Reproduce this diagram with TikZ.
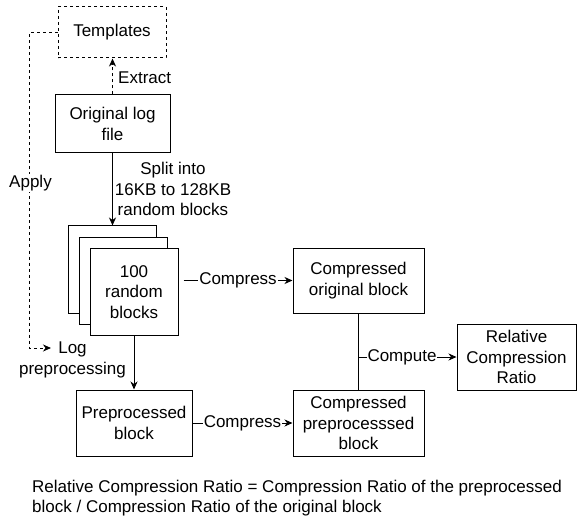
\documentclass[tikz,border=0pt]{standalone}
\usepackage{fontspec}
\setmainfont{Liberation Sans}
\usetikzlibrary{arrows.meta}
\begin{document}
\begin{tikzpicture}[x=1pt,y=-1pt,
  every node/.style={font=\fontsize{17}{20.4}\selectfont, inner sep=0pt, align=center},
  box/.style={draw, line width=1pt, fill=white},
  conn/.style={draw, line width=1pt, -{Stealth[length=8pt,width=7pt,inset=2.5pt]}},
  dots/.style={dash pattern=on 3pt off 3pt},
  lbl/.style={fill=white, inner sep=1pt}]
\useasboundingbox (0,0) rectangle (577,518);

% boxes
\node[box, dots, minimum width=108pt, minimum height=51pt] (tpl) at (112,32.5) {Templates};
\node[box, minimum width=115pt, minimum height=58pt] (orig) at (112.5,124) {Original log\\file};
\node[box, minimum width=88pt, minimum height=87pt] (s1) at (112,269.5) {};
\node[box, minimum width=88pt, minimum height=87pt] (s2) at (123,281) {};
\node[box, minimum width=88pt, minimum height=87pt] (s3) at (134,292) {100\\random\\blocks};
\node[box, minimum width=131pt, minimum height=65pt] (corig) at (358.5,280.5) {Compressed\\original block};
\node[box, minimum width=119pt, minimum height=66pt] (rcr) at (516.5,357) {Relative\\Compression\\Ratio};
\node[box, minimum width=131pt, minimum height=66pt] (cpre) at (358.5,423) {Compressed\\preprocesssed\\block};
\node[box, minimum width=116pt, minimum height=66pt] (pre) at (134,423) {Preprocessed\\block};

% extract templates
\draw[conn, dots] (orig.north) -- (orig.north |- tpl.south);
\node[anchor=west] (lext) at (118,78) {Extract};

% split into blocks
\draw[conn] (orig.south) -- (orig.south |- s1.north);
\node (lsplit) at (173,189) {Split into\\16KB to 128KB\\random blocks};

% apply templates in preprocessing
\coordinate (logend) at (51,348);
\draw[conn, dots] (tpl.west) -- ++(-28,0) |- (logend);
\node[lbl] (lapply) at (30.5,183) {Apply};
\node (llog) at (72.5,360) {Log\\preprocessing};
\draw[conn] (s3.south) -- (pre.north);

% compression
\draw[conn] ([xshift=5pt]s3.east |- corig.west) -- (corig.west)
  node[lbl, midway] (lcomp1) {Compress};
\draw[conn] (pre.east) -- (cpre.west)
  node[lbl, midway] (lcomp2) {Compress};

% ratio computation
\draw[line width=1pt] (corig.south) -- (cpre.north);
\coordinate (cj) at (358.5,357);
\draw[conn] (cj) -- (rcr.west);
\node[lbl] (lcompute) at (402,357) {Compute};

% definition
\node[anchor=west, align=left] (note) at (32,498)
  {Relative Compression Ratio = Compression Ratio of the preprocessed\\block / Compression Ratio of the original block};
\end{tikzpicture}
\end{document}
